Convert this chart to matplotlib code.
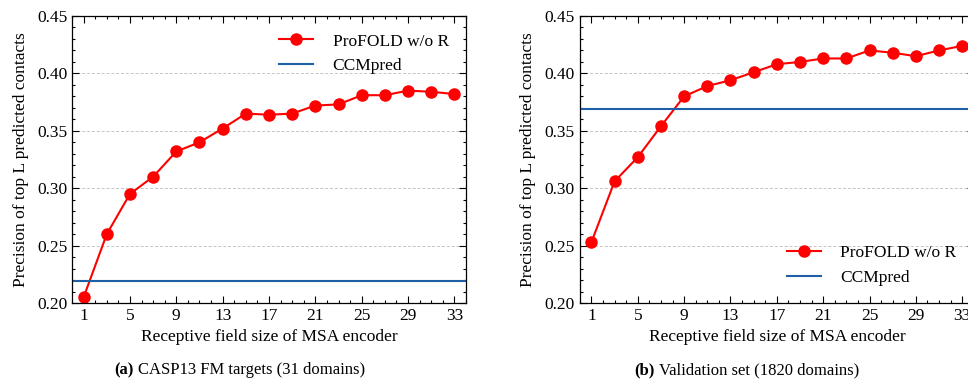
import matplotlib as mpl
mpl.use('Agg')
import matplotlib.pyplot as plt  # NOQA
from matplotlib.ticker import MultipleLocator, FixedLocator  # NOQA

sizes = [1, 3, 5, 7, 9, 11, 13, 15, 17, 19, 21, 23, 25, 27, 29, 31, 33]
casp13 = [0.205, 0.260, 0.295, 0.310, 0.332, 0.340, 0.352, 0.365, 0.364,
          0.365, 0.372, 0.373, 0.381, 0.381, 0.385, 0.384, 0.382]
validation = [0.253, 0.306, 0.327, 0.354, 0.380, 0.389, 0.394, 0.401, 0.408,
              0.410, 0.413, 0.413, 0.420, 0.418, 0.415, 0.420, 0.424]
ccmpred_casp13 = 0.219
ccmpred_validation = 0.369
xticks = [1, 5, 9, 13, 17, 21, 25, 29, 33]

plt.rcParams['font.family'] = 'Liberation Serif'
plt.rcParams['font.size'] = 12.5

fig = plt.figure(figsize=(9.68, 3.8), dpi=100)
ax1 = fig.add_axes([0.0744, 0.2026, 0.407, 0.7553])
ax2 = fig.add_axes([0.599, 0.2026, 0.407, 0.7553])


def draw(ax, values, baseline, legend_loc):
    ax.plot(sizes, values, color='#ff0000', marker='o', markersize=8,
            linewidth=1.5, label='ProFOLD w/o R')
    ax.axhline(baseline, color='#1f5fa6', linewidth=1.5, label='CCMpred')
    ax.set_xlim(0, 34)
    ax.set_ylim(0.20, 0.45)
    ax.xaxis.set_major_locator(FixedLocator(xticks))
    ax.xaxis.set_minor_locator(MultipleLocator(1))
    ax.yaxis.set_major_locator(MultipleLocator(0.05))
    ax.yaxis.set_minor_locator(MultipleLocator(0.01))
    ax.yaxis.set_major_formatter(mpl.ticker.FormatStrFormatter('%.2f'))
    ax.tick_params(which='both', direction='in', top=True, right=True)
    ax.tick_params(which='major', length=5, width=0.8)
    ax.tick_params(which='minor', length=2.5, width=0.8)
    ax.grid(axis='y', which='major', linestyle=(0, (3, 2)), color='#c4c4c4',
            linewidth=0.7)
    ax.set_axisbelow(True)
    for s in ax.spines.values():
        s.set_linewidth(0.9)
    ax.set_xlabel('Receptive field size of MSA encoder', labelpad=4)
    ax.set_ylabel('Precision of top L predicted contacts', labelpad=6)
    ax.legend(loc=legend_loc, frameon=False, handlelength=2.0,
              handletextpad=1.1, borderaxespad=0.6)


draw(ax1, casp13, ccmpred_casp13, 'upper right')
draw(ax2, validation, ccmpred_validation, 'lower right')

fig.text(134 / 968, 0.025, '(a)', fontweight='bold', fontsize=12,
         ha='right', va='center')
fig.text(138 / 968, 0.025, 'CASP13 FM targets (31 domains)', fontsize=12,
         ha='left', va='center')
fig.text(655 / 968, 0.025, '(b)', fontweight='bold', fontsize=12,
         ha='right', va='center')
fig.text(659 / 968, 0.025, 'Validation set (1820 domains)', fontsize=12,
         ha='left', va='center')

fig.savefig('out.png', dpi=100)
